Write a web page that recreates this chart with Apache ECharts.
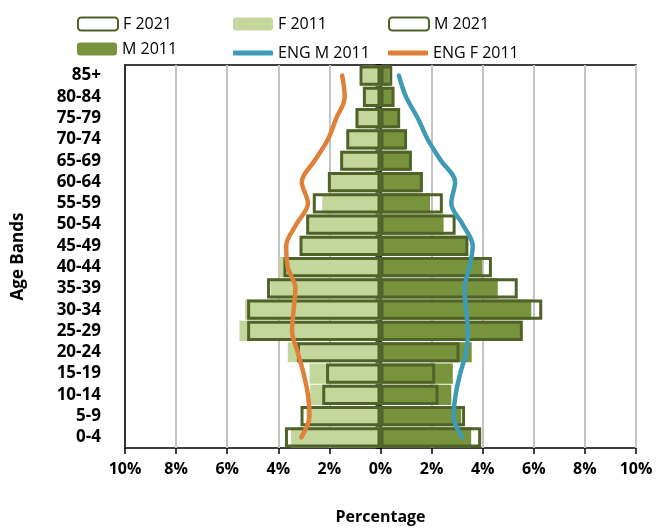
<!DOCTYPE html>
<html>
<head>
<meta charset="utf-8">
<script src="https://cdn.jsdelivr.net/npm/echarts@6/dist/echarts.min.js"></script>
<style>
  html, body { margin: 0; padding: 0; background: #fff; }
  #chart { width: 657px; height: 529px; }
</style>
</head>
<body>
<div id="chart"></div>
<script>
// age bands, bottom to top
const ages = ['0-4', '5-9', '10-14', '15-19', '20-24', '25-29', '30-34', '35-39', '40-44',
  '45-49', '50-54', '55-59', '60-64', '65-69', '70-74', '75-79', '80-84', '85+']

// percentages of population
const f2021 = [3.74, 3.13, 2.28, 2.13, 3.27, 5.22, 5.22, 4.44, 3.8, 3.17, 2.91, 2.65, 2.06, 1.58, 1.34, 0.98, 0.69, 0.82]
const f2011 = [3.5, 2.9, 2.75, 2.78, 3.63, 5.52, 5.3, 4.3, 3.95, 3.1, 2.8, 2.28, 2.0, 1.5, 1.25, 0.9, 0.65, 0.7]
const m2021 = [3.94, 3.31, 2.27, 2.14, 3.09, 5.57, 6.33, 5.37, 4.36, 3.44, 2.94, 2.44, 1.66, 1.23, 1.04, 0.77, 0.55, 0.46]
const m2011 = [3.55, 3.16, 2.77, 2.83, 3.57, 5.5, 5.9, 4.59, 3.98, 3.35, 2.47, 1.94, 1.6, 1.13, 0.94, 0.68, 0.45, 0.33]
const engM2011 = [3.2, 2.86, 2.94, 3.12, 3.35, 3.42, 3.35, 3.29, 3.48, 3.61, 3.22, 2.77, 2.92, 2.37, 1.85, 1.46, 1.0, 0.72]
const engF2011 = [3.1, 2.78, 2.84, 3.01, 3.24, 3.46, 3.4, 3.33, 3.63, 3.69, 3.3, 2.84, 3.08, 2.58, 2.06, 1.73, 1.4, 1.5]

const neg = (arr) => arr.map((v) => -v)

const font = 'Open Sans'
const outline = '#4F6228'

// one legend per item so the columns line up like the original
const legendItem = (name, left, top, isLine) => ({
  left: left,
  top: isLine ? top + 4 : top,
  itemWidth: 40,
  itemHeight: isLine ? 5 : 13,
  icon: isLine ? 'roundRect' : undefined,
  selectedMode: false,
  data: [name],
  textStyle: { fontFamily: font, fontSize: 16, color: '#000' }
})

const hollow = {
  color: 'rgba(255,255,255,0)',
  borderColor: outline,
  borderWidth: 3
}

const option = {
  animation: false,
  backgroundColor: '#fff',
  legend: [
    legendItem('F 2021', 72, 11, false),
    legendItem('F 2011', 228, 11, false),
    legendItem('M 2021', 383, 11, false),
    legendItem('M 2011', 72, 36, false),
    legendItem('ENG M 2011', 228, 36, true),
    legendItem('ENG F 2011', 383, 36, true)
  ],
  grid: {
    left: 125,
    right: 21,
    top: 65,
    bottom: 81,
    outerBoundsMode: 'none',
    show: true,
    borderColor: '#000',
    borderWidth: 1.5
  },
  xAxis: {
    type: 'value',
    min: -10,
    max: 10,
    interval: 2,
    name: 'Percentage',
    nameLocation: 'middle',
    nameGap: 61,
    nameTextStyle: { fontFamily: font, fontSize: 16, fontWeight: 'bold', color: '#000' },
    axisLine: { lineStyle: { color: '#000', width: 1.5 } },
    axisTick: { show: true, length: 6, lineStyle: { color: '#000', width: 1.5 } },
    axisLabel: {
      margin: 13,
      fontFamily: font,
      fontSize: 16,
      fontWeight: 'bold',
      color: '#000',
      formatter: (v) => Math.abs(v) + '%'
    },
    splitLine: { show: true, lineStyle: { color: '#C4C4C4', width: 2 } }
  },
  yAxis: [
    {
      type: 'category',
      data: ages,
      name: 'Age Bands',
      nameLocation: 'middle',
      nameGap: 98,
      nameTextStyle: { fontFamily: font, fontSize: 17, fontWeight: 'bold', color: '#000' },
      axisLine: { onZero: false, lineStyle: { color: '#000', width: 1.5 } },
      axisTick: { show: false },
      axisLabel: { interval: 0, margin: 24, fontFamily: font, fontSize: 17, fontWeight: 'bold', color: '#000' }
    },
    {
      // centre axis at 0%
      type: 'category',
      data: ages,
      position: 'right',
      axisLine: { onZero: true, lineStyle: { color: '#000', width: 1.5 } },
      axisTick: { show: true, inside: true, length: 5, lineStyle: { color: '#000', width: 1.5 } },
      axisLabel: { show: false }
    }
  ],
  series: [
    {
      name: 'F 2011',
      type: 'bar',
      data: neg(f2011),
      barGap: '-100%',
      barCategoryGap: '5%',
      itemStyle: { color: '#C3D69B' },
      z: 2
    },
    {
      name: 'M 2011',
      type: 'bar',
      data: m2011,
      barGap: '-100%',
      barCategoryGap: '5%',
      itemStyle: { color: '#77933C' },
      z: 2
    },
    {
      name: 'F 2021',
      type: 'bar',
      data: neg(f2021),
      barGap: '-100%',
      barCategoryGap: '5%',
      itemStyle: hollow,
      z: 3
    },
    {
      name: 'M 2021',
      type: 'bar',
      data: m2021,
      barGap: '-100%',
      barCategoryGap: '5%',
      itemStyle: hollow,
      z: 3
    },
    {
      name: 'ENG M 2011',
      type: 'line',
      data: engM2011,
      smooth: 0.35,
      symbol: 'none',
      lineStyle: { color: '#3F9BB5', width: 4.5, cap: 'round' },
      itemStyle: { color: '#3F9BB5' },
      z: 5
    },
    {
      name: 'ENG F 2011',
      type: 'line',
      data: neg(engF2011),
      smooth: 0.35,
      symbol: 'none',
      lineStyle: { color: '#E0813A', width: 4.5, cap: 'round' },
      itemStyle: { color: '#E0813A' },
      z: 5
    }
  ]
}

const chart = echarts.init(document.getElementById('chart'))
chart.setOption(option)
window.addEventListener('resize', function () {
  chart.resize()
})
</script>
</body>
</html>
